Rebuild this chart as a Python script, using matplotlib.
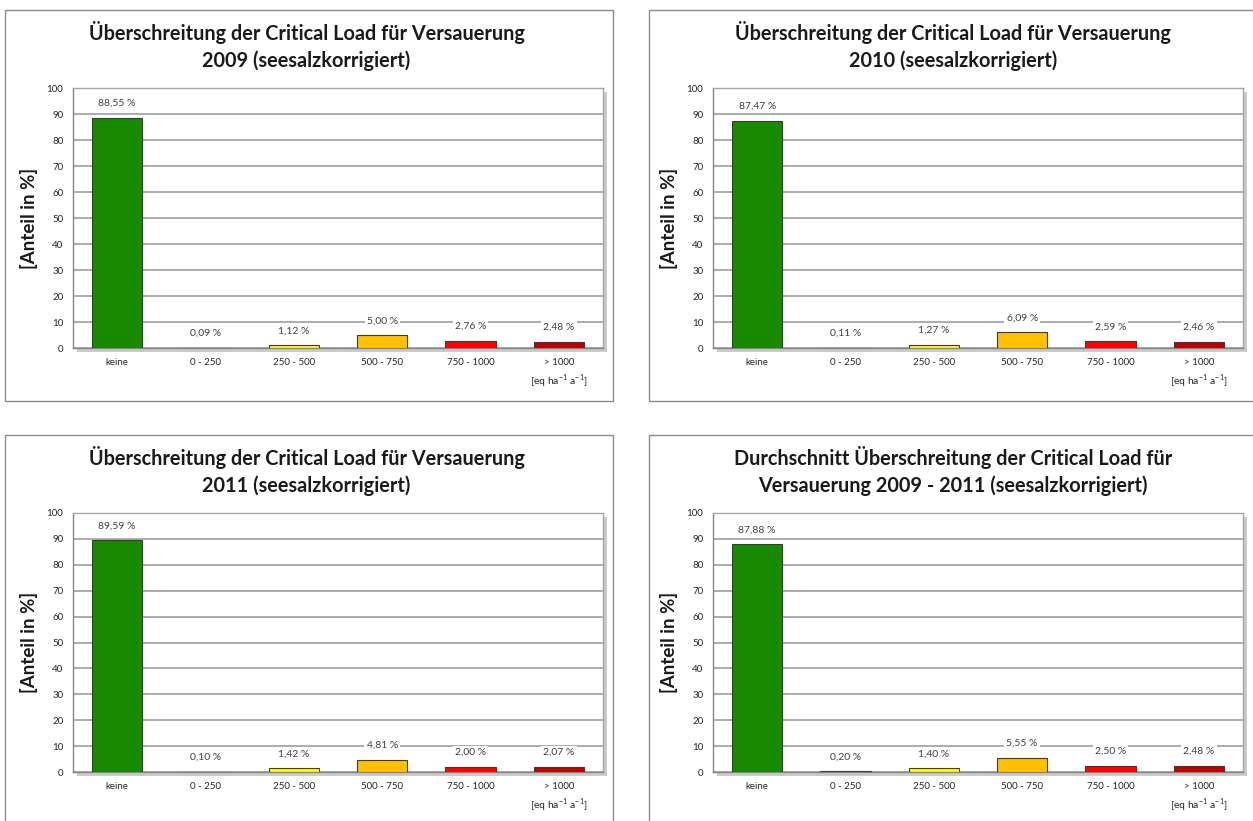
import matplotlib
matplotlib.use("Agg")
import matplotlib.pyplot as plt
import matplotlib.patheffects as pe
from matplotlib.patches import Rectangle

plt.rcParams['font.family'] = ['Lato', 'DejaVu Sans']

# categories (exceedance classes) and bar colours
categories = ['keine', '0 - 250', '250 - 500', '500 - 750', '750 - 1000', '> 1000']
bar_colors = ['#178A00', '#7F7F7F', '#FFFF00', '#FFC000', '#FF0000', '#C00000']

# shares in percent per chart
vals_2009 = [88.55, 0.09, 1.12, 5.00, 2.76, 2.48]
vals_2010 = [87.47, 0.11, 1.27, 6.09, 2.59, 2.46]
vals_2011 = [89.59, 0.10, 1.42, 4.81, 2.00, 2.07]
vals_mean = [87.88, 0.20, 1.40, 5.55, 2.50, 2.48]

titles = [
    'Überschreitung der Critical Load für Versauerung\n2009 (seesalzkorrigiert)',
    'Überschreitung der Critical Load für Versauerung\n2010 (seesalzkorrigiert)',
    'Überschreitung der Critical Load für Versauerung\n2011 (seesalzkorrigiert)',
    'Durchschnitt Überschreitung der Critical Load für\nVersauerung 2009 - 2011 (seesalzkorrigiert)',
]
series = [vals_2009, vals_2010, vals_2011, vals_mean]

W, H = 1253, 821
fig = plt.figure(figsize=(W / 100, H / 100), dpi=100)


def px_box(x0, y0, x1, y1):
    # pixel box (top-left origin) -> figure fraction [l, b, w, h]
    return [x0 / W, 1 - y1 / H, (x1 - x0) / W, (y1 - y0) / H]


# panel frames: (left, top, right, bottom) in pixels
frames = [(5, 10, 613, 401), (649, 10, 1260, 401),
          (5, 435, 613, 830), (649, 435, 1260, 830)]
# plot areas
areas = [(73, 88, 603, 348), (713, 88, 1243, 348),
         (73, 513, 603, 772), (713, 513, 1243, 772)]

for k in range(4):
    fl, ft, fr, fb = frames[k]
    fig.add_artist(Rectangle((fl / W, 1 - fb / H), (fr - fl) / W, (fb - ft) / H,
                             transform=fig.transFigure, fill=False,
                             edgecolor='#8C8C8C', linewidth=1.0))

    al, at, ar, ab = areas[k]
    ax = fig.add_axes(px_box(al, at, ar, ab))
    ax.patch.set_path_effects([pe.SimplePatchShadow(offset=(3, -3), shadow_rgbFace='#BFBFBF', alpha=0.8),
                               pe.Normal()])

    vals = series[k]
    x = range(len(categories))
    ax.bar(x, vals, width=0.57, color=bar_colors, edgecolor='#3A3A3A', linewidth=0.8, zorder=3)
    for i, v in enumerate(vals):
        ax.annotate(f"{v:.2f} %".replace('.', ','), xy=(i, v), xytext=(0, 7),
                    textcoords='offset points', ha='center', va='bottom',
                    fontsize=7.5, color='#404040', zorder=4,
                    bbox=dict(facecolor='white', edgecolor='none', pad=1.5))

    ax.set_xlim(-0.5, 5.5)
    ax.set_ylim(0, 100)
    ax.set_yticks(range(0, 101, 10))
    ax.set_xticks(list(x))
    ax.set_xticklabels(categories)
    ax.tick_params(axis='both', length=0, labelsize=7, colors='#262626', pad=7)
    ax.grid(axis='y', color='#A6A6A6', linewidth=1.3, zorder=0)
    ax.set_axisbelow(True)
    for s in ax.spines.values():
        s.set_color('#A6A6A6')
        s.set_linewidth(1.0)
    ax.spines['bottom'].set_color('#868686')
    ax.spines['left'].set_color('#868686')

    ax.set_ylabel('[Anteil in %]', fontsize=13.5, fontweight='bold', color='#1A1A1A', labelpad=6)

    # unit note under last category
    ax.text(5, -12.8, r'[eq ha$^{\mathregular{-1}}$ a$^{\mathregular{-1}}$]', ha='center', va='center',
            fontsize=7.5, color='#262626')

    cx = (fl + 608) / 2 if k in (0, 2) else (fl + 1257) / 2
    fig.text(cx / W, 1 - (ft + 36) / H, titles[k], ha='center', va='center',
             fontsize=14.3, fontweight='bold', color='#1A1A1A', linespacing=1.4)

fig.savefig('out.png', dpi=100)
